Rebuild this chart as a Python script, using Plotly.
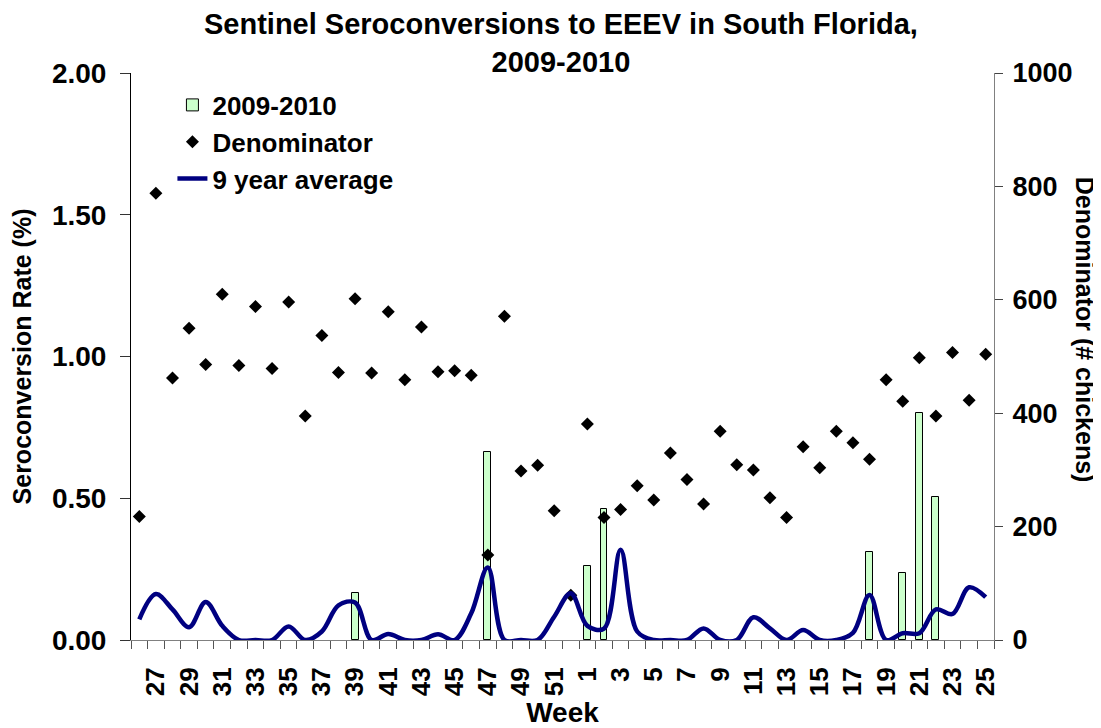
import plotly.graph_objects as go

# ---------------- data ----------------
weeks = list(range(26, 53)) + list(range(1, 26))

rate_2009_2010 = [
    0, 0, 0, 0, 0, 0, 0, 0, 0, 0,            # 26-35
    0, 0, 0, 0.165, 0, 0, 0, 0, 0, 0,        # 36-45
    0, 0.664, 0, 0, 0, 0, 0,                 # 46-52
    0.262, 0.462, 0, 0, 0, 0, 0, 0, 0, 0,    # 1-10
    0, 0, 0, 0, 0, 0, 0, 0.312, 0, 0.238,    # 11-20
    0.80, 0.506, 0, 0, 0,                    # 21-25
]

denominator = [
    218, 788, 462, 550, 486, 610, 484, 588, 479, 596,   # 26-35
    395, 537, 472, 602, 471, 579, 459, 552, 473, 475,   # 36-45
    467, 150, 571, 298, 308, 228, 79,                   # 46-52
    381, 216, 230, 272, 247, 330, 283, 240, 368, 309,   # 1-10
    300, 251, 216, 341, 304, 368, 348, 319, 459, 421,   # 11-20
    498, 395, 507, 423, 504,                            # 21-25
]

avg_9yr = [
    0.073, 0.162, 0.108, 0.045, 0.134, 0.050, 0.0, 0.0, 0.0, 0.048,   # 26-35
    0.0, 0.030, 0.122, 0.132, 0.0, 0.021, 0.0, 0.0, 0.020, 0.0,       # 36-45
    0.094, 0.256, 0.0, 0.0, 0.0, 0.082, 0.165,                        # 46-52
    0.050, 0.040, 0.318, 0.030, 0.0, 0.0, 0.0, 0.041, 0.0, 0.0,       # 1-10
    0.080, 0.041, 0.0, 0.035, 0.0, 0.0, 0.025, 0.159, 0.0, 0.024,     # 11-20
    0.024, 0.108, 0.092, 0.186, 0.151,                                # 21-25
]

left_ticks = [0, 0.5, 1.0, 1.5, 2.0]
right_ticks = [0, 200, 400, 600, 800, 1000]

# ---------------- figure ----------------
x_pos = list(range(len(weeks)))
tick_idx = [i for i in x_pos if i % 2 == 1]
tick_text = [str(weeks[i]) for i in tick_idx]
bar_vals = [v if v else None for v in rate_2009_2010]   # empty weeks draw nothing

FONT = "Liberation Sans, Arial, sans-serif"
BOLD = dict(family=FONT, color="black", weight="bold")

fig = go.Figure()
fig.add_trace(go.Bar(
    x=x_pos, y=bar_vals, name="2009-2010", yaxis="y",
    width=0.42, legendgroup="a",
    marker=dict(color="#CCFFCC", line=dict(color="black", width=1)),
))
fig.add_trace(go.Scatter(
    x=x_pos, y=denominator, name="Denominator", yaxis="y2",
    mode="markers", legendgroup="b",
    marker=dict(symbol="diamond", size=10, color="black"),
))
fig.add_trace(go.Scatter(
    x=x_pos, y=avg_9yr, name="9 year average", yaxis="y3",
    mode="lines", legendgroup="c",
    line=dict(color="#000080", width=4.5, shape="spline", smoothing=1.0),
))

fig.update_layout(
    width=1093, height=720,
    paper_bgcolor="white", plot_bgcolor="white",
    margin=dict(l=123, r=107, t=65, b=88, autoexpand=False),
    font=dict(family=FONT, color="black"),
    showlegend=True,
    legend=dict(
        x=0.048, y=0.985, xanchor="left", yanchor="top",
        bgcolor="rgba(0,0,0,0)", font=dict(size=26, **BOLD),
        tracegroupgap=4, traceorder="normal",
    ),
    bargap=0,
    xaxis=dict(
        range=[-0.5, len(weeks) - 0.5],
        tickmode="array", tickvals=tick_idx, ticktext=tick_text,
        tickangle=-90, ticks="outside", ticklen=8, tickcolor="rgba(0,0,0,0)",
        ticklabelstandoff=8,
        tickfont=dict(size=26, **BOLD),
        minor=dict(tickmode="linear", tick0=-0.5, dtick=1, ticks="outside",
                   ticklen=8, tickcolor="#555555", tickwidth=1),
        showline=True, linecolor="#808080", linewidth=1,
        showgrid=False, zeroline=False,
        title=dict(text="Week", font=dict(size=28, **BOLD), standoff=7),
    ),
    yaxis=dict(
        range=[0, 2], tickmode="array", tickvals=left_ticks, tickformat=".2f",
        ticks="outside", ticklen=10, tickcolor="#333333",
        ticklabelstandoff=8,
        tickfont=dict(size=28, **BOLD),
        showline=True, linecolor="black", linewidth=1,
        showgrid=False, zeroline=False,
        title=dict(text="Seroconversion Rate (%)", font=dict(size=25, **BOLD), standoff=14),
    ),
    yaxis2=dict(
        overlaying="y", side="right", range=[0, 1000],
        tickmode="array", tickvals=right_ticks,
        ticks="outside", ticklen=8, tickcolor="#444444",
        ticklabelstandoff=4,
        tickfont=dict(size=27, **BOLD),
        showline=True, linecolor="#808080", linewidth=1,
        showgrid=False, zeroline=False,
    ),
    yaxis3=dict(overlaying="y", range=[0, 2], visible=False),
    yaxis4=dict(
        overlaying="y", side="right", range=[0, 1000],
        tickmode="array", tickvals=right_ticks,
        ticks="inside", ticklen=8, tickcolor="#444444",
        showticklabels=False, showline=False, showgrid=False, zeroline=False,
    ),
    annotations=[
        dict(
            text="Sentinel Seroconversions to EEEV in South Florida,<br>2009-2010",
            xref="paper", yref="paper", x=0.498, y=1.053,
            xanchor="center", yanchor="middle", showarrow=False,
            font=dict(size=29, **BOLD),
        ),
        dict(
            text="Denominator (# chickens)", textangle=90,
            xref="paper", yref="paper", x=1.1055, y=0.547,
            xanchor="center", yanchor="middle", showarrow=False,
            font=dict(size=25, **BOLD),
        ),
    ],
)

fig.write_html("out.html")
